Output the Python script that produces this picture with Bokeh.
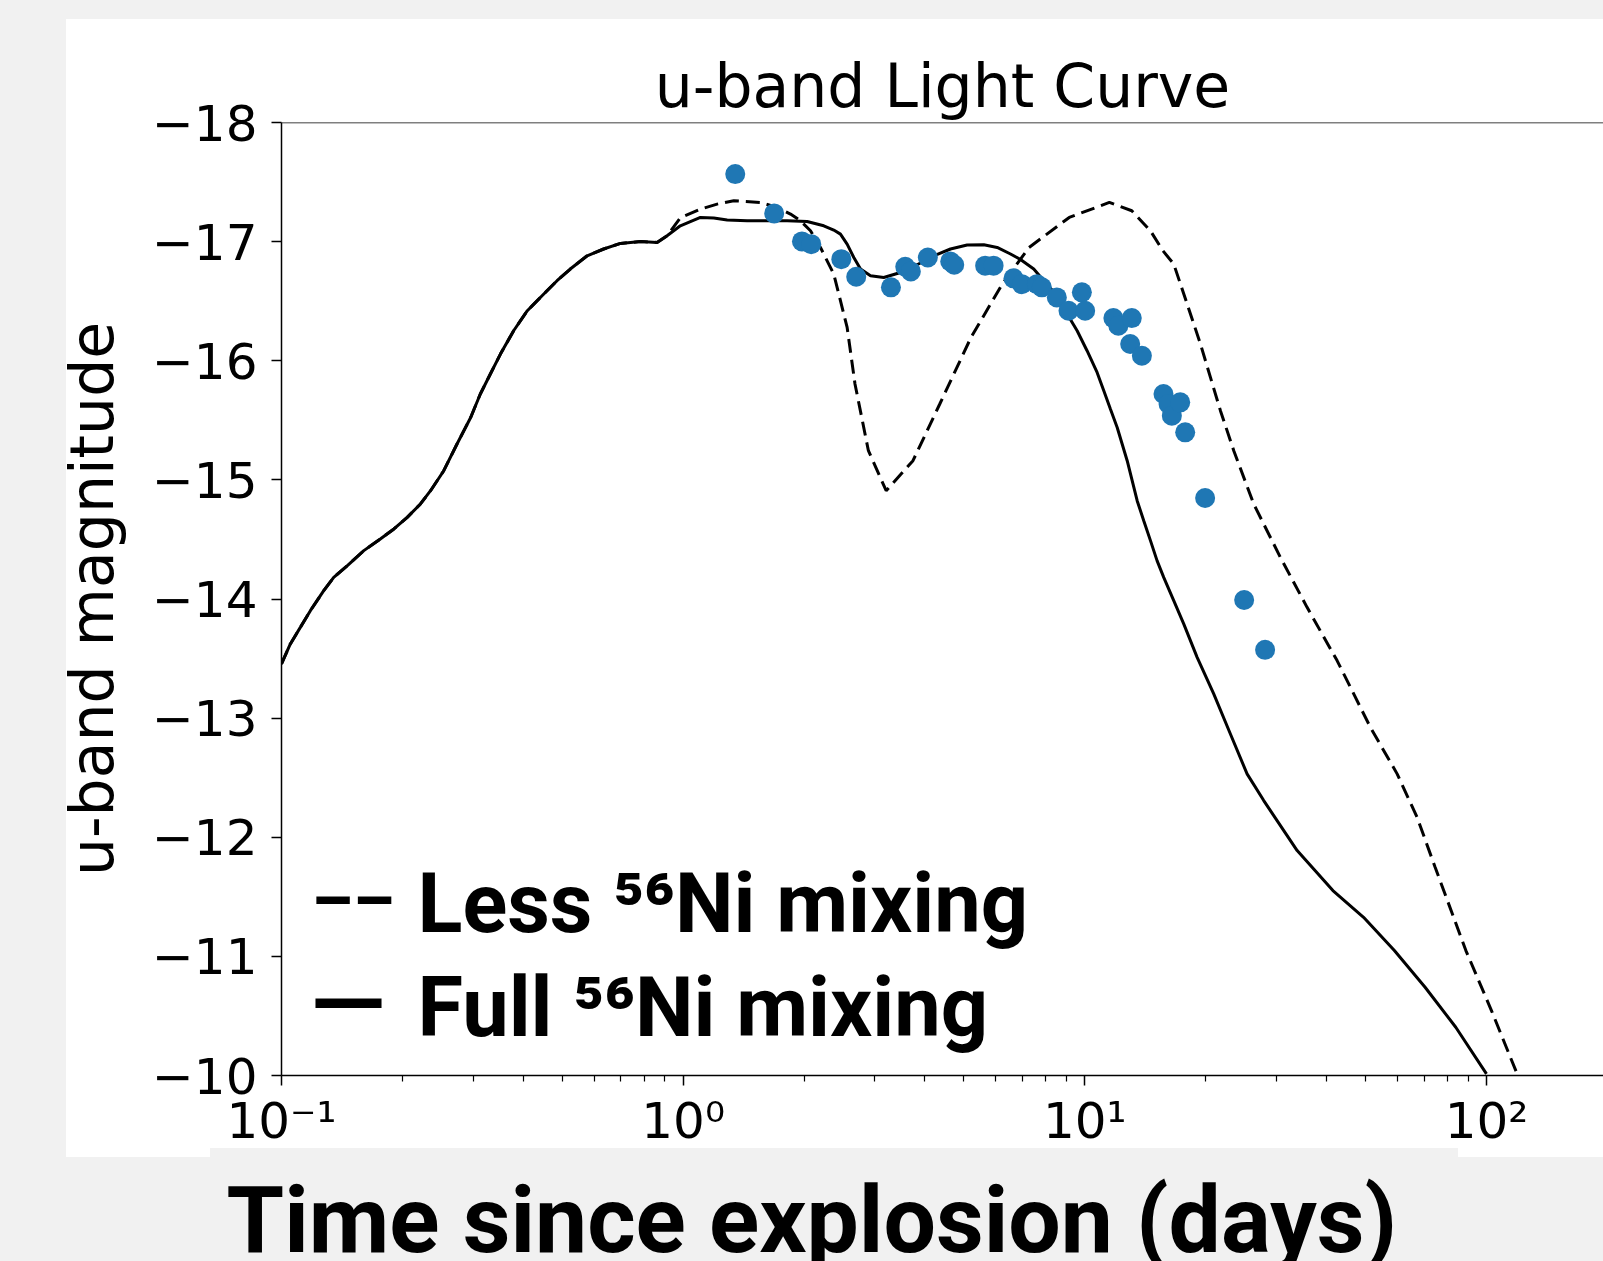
from bokeh.plotting import figure
from bokeh.layouts import column
from bokeh.models import (Range1d, FixedTicker, CustomJSTickFormatter, Label, Span)
from bokeh.embed import file_html
from bokeh.resources import INLINE

# ---------------- data ----------------
# Full 56Ni mixing model (time in days, u-band absolute magnitude)
full_t = [0.100, 0.1052, 0.1114, 0.1180, 0.1274, 0.1349, 0.1459, 0.1603, 0.1762, 0.1905,
          0.2056, 0.2218, 0.2350, 0.2535, 0.2735, 0.2958, 0.3126, 0.3311, 0.3508, 0.3784,
          0.4093, 0.4498, 0.4853, 0.5236, 0.5768, 0.6339, 0.6982, 0.7834, 0.8610, 0.9120,
          0.9840, 1.104, 1.192, 1.287, 1.443, 1.619, 1.815, 2.035, 2.239, 2.371,
          2.464, 2.560, 2.660, 2.764, 2.927, 3.158, 3.475, 3.824, 4.207, 4.630,
          5.093, 5.605, 6.050, 6.531, 6.916, 7.463, 7.903, 8.533, 9.036, 9.570,
          10.13, 10.73, 11.15, 11.58, 12.04, 12.75, 13.50, 14.02, 14.57, 15.13,
          15.72, 16.65, 17.63, 19.04, 20.94, 23.04, 25.35, 27.89, 30.11, 33.78,
          41.46, 49.43, 58.98, 70.34, 83.86, 100.0]
full_m = [-13.455, -13.623, -13.762, -13.902, -14.070, -14.182, -14.280, -14.406, -14.504, -14.588,
          -14.685, -14.798, -14.909, -15.077, -15.301, -15.524, -15.721, -15.889, -16.056, -16.252,
          -16.420, -16.560, -16.672, -16.770, -16.881, -16.938, -16.985, -17.001, -16.993, -17.049,
          -17.133, -17.203, -17.198, -17.181, -17.175, -17.175, -17.175, -17.169, -17.133, -17.097,
          -17.063, -16.979, -16.867, -16.770, -16.713, -16.699, -16.741, -16.806, -16.881, -16.938,
          -16.971, -16.974, -16.951, -16.896, -16.850, -16.770, -16.672, -16.546, -16.392, -16.252,
          -16.084, -15.902, -15.748, -15.595, -15.440, -15.161, -14.825, -14.657, -14.490, -14.322,
          -14.182, -13.986, -13.791, -13.510, -13.203, -12.867, -12.532, -12.308, -12.140, -11.888,
          -11.552, -11.328, -11.049, -10.741, -10.405, -10.014]

# Less 56Ni mixing model
less_t = [0.100, 0.1052, 0.1114, 0.1180, 0.1274, 0.1349, 0.1459, 0.1603, 0.1762, 0.1905,
          0.2056, 0.2218, 0.2350, 0.2535, 0.2735, 0.2958, 0.3126, 0.3311, 0.3508, 0.3784,
          0.4093, 0.4498, 0.4853, 0.5236, 0.5768, 0.6339, 0.6982, 0.7834, 0.8610, 0.9120,
          0.9840, 1.104, 1.215, 1.337, 1.557, 1.714, 1.850, 1.959, 2.075, 2.197,
          2.371, 2.560, 2.678, 2.892, 3.202, 3.734, 4.354, 5.208, 6.230, 7.264,
          9.147, 11.51, 13.09, 14.57, 15.65, 16.65, 17.98, 19.41, 20.55, 21.76,
          23.49, 26.33, 30.68, 35.76, 42.47, 51.40, 59.92, 67.18, 74.51, 88.87,
          102.9, 119.2]
less_m = [-13.455, -13.623, -13.762, -13.902, -14.070, -14.182, -14.280, -14.406, -14.504, -14.588,
          -14.685, -14.798, -14.909, -15.077, -15.301, -15.524, -15.721, -15.889, -16.056, -16.252,
          -16.420, -16.560, -16.672, -16.770, -16.881, -16.938, -16.985, -17.001, -16.993, -17.049,
          -17.200, -17.273, -17.315, -17.343, -17.329, -17.287, -17.231, -17.175, -17.091, -16.951,
          -16.728, -16.280, -15.805, -15.245, -14.909, -15.161, -15.637, -16.196, -16.644, -16.951,
          -17.203, -17.329, -17.259, -17.091, -16.923, -16.812, -16.476, -16.140, -15.860, -15.581,
          -15.245, -14.798, -14.350, -13.930, -13.483, -12.923, -12.532, -12.168, -11.748, -11.049,
          -10.545, -10.014]

# Observed u-band photometry
obs_t = [1.348, 1.685, 1.976, 2.084, 2.476, 2.697, 3.291, 3.572, 3.689, 4.066,
         4.623, 4.730, 5.648, 5.928, 6.644, 6.971, 7.598, 7.818, 8.518, 9.108,
         9.832, 10.02, 11.78, 12.12, 13.09, 12.97, 13.87, 15.70, 16.16, 16.47,
         17.28, 17.78, 19.93, 24.93, 28.11]
obs_m = [-17.567, -17.237, -17.002, -16.979, -16.853, -16.705, -16.616, -16.789, -16.750, -16.867,
         -16.834, -16.806, -16.798, -16.798, -16.692, -16.643, -16.643, -16.616, -16.532, -16.420,
         -16.574, -16.420, -16.358, -16.294, -16.358, -16.141, -16.042, -15.721, -15.637, -15.539,
         -15.651, -15.399, -14.848, -13.992, -13.573]

x_ticks = [0.1, 1.0, 10.0, 100.0]
x_tick_labels = ["10\u207b\u00b9", "10\u2070", "10\u00b9", "10\u00b2"]
x_minor_ticks = [k * 10.0 ** e for e in (-1, 0, 1) for k in range(2, 10)]
y_ticks = [-18, -17, -16, -15, -14, -13, -12, -11, -10]
y_tick_labels = ["\u221218", "\u221217", "\u221216", "\u221215", "\u221214",
                 "\u221213", "\u221212", "\u221211", "\u221210"]

title_text = "u-band Light Curve"
y_label = "u-band magnitude"
x_label = "Time since explosion (days)"
legend_marks = ["\u2013\u2013", "\u2014"]
legend_texts = ["Less \u2075\u2076Ni mixing", "Full \u2075\u2076Ni mixing"]

# ---------------- main figure ----------------
W, H = 1603, 1261
H1 = 1158            # main figure height; caption strip below
GRAY = "#f1f1f1"

p = figure(width=W, height=H1, x_axis_type="log", output_backend="svg",
           toolbar_location=None, title=title_text,
           x_range=Range1d(0.1, 195.6), y_range=Range1d(-10, -18),
           min_border_left=281, min_border_right=0,
           min_border_top=122, min_border_bottom=H1 - 1075)
p.frame_align = False
p.border_fill_color = None
p.background_fill_color = "white"
p.outline_line_color = None
p.grid.visible = False

# title
p.title.text_font = "DejaVu Sans"
p.title.text_font_size = "60px"
p.title.text_font_style = "normal"
p.title.text_color = "black"
p.title.align = "center"
p.title.standoff = 4

# axes
xa = p.xaxis[0]
ya = p.yaxis[0]
xa.ticker = FixedTicker(ticks=x_ticks, minor_ticks=x_minor_ticks)
xa.formatter = CustomJSTickFormatter(args=dict(tvals=x_ticks, tlabels=x_tick_labels), code="""
const i = tvals.findIndex((t) => Math.abs(Math.log10(t) - Math.log10(tick)) < 1e-6);
return i >= 0 ? tlabels[i] : "";
""")
ya.ticker = FixedTicker(ticks=y_ticks)
ya.formatter = CustomJSTickFormatter(args=dict(tvals=y_ticks, tlabels=y_tick_labels), code="""
const i = tvals.findIndex((t) => Math.abs(t - tick) < 1e-6);
return i >= 0 ? tlabels[i] : "";
""")
for ax in (xa, ya):
    ax.axis_line_color = "black"
    ax.axis_line_width = 1.5
    ax.major_tick_line_color = "black"
    ax.major_tick_line_width = 1.5
    ax.major_tick_out = 10
    ax.major_tick_in = 0
    ax.minor_tick_line_color = "black"
    ax.minor_tick_line_width = 1.2
    ax.minor_tick_out = 6
    ax.minor_tick_in = 0
    ax.major_label_text_font = "DejaVu Sans"
    ax.major_label_text_font_size = "50px"
    ax.major_label_text_color = "black"
ya.minor_tick_line_color = None
xa.major_label_standoff = 6
ya.major_label_standoff = 14
ya.axis_label = y_label
ya.axis_label_text_font = "DejaVu Sans"
ya.axis_label_text_font_size = "60px"
ya.axis_label_text_font_style = "normal"
ya.axis_label_text_color = "black"
ya.axis_label_standoff = 22

# top spine
p.add_layout(Span(location=-18, dimension="width", line_color="black", line_width=1.5))

# data
p.line(less_t, less_m, line_color="black", line_width=3, line_dash="14 7")
p.line(full_t, full_m, line_color="black", line_width=3)
p.scatter(obs_t, obs_m, size=20, fill_color="#1f77b4", line_color="#1f77b4", line_width=0)

# legend (plain text, canvas pixel units)
p.add_layout(Label(x=311, y=901, x_units="canvas", y_units="canvas",
                   text=legend_marks[0], text_font="Roboto", text_font_size="66px",
                   text_font_style="bold", text_baseline="alphabetic", text_color="black"))
p.add_layout(Label(x=311, y=997, x_units="canvas", y_units="canvas",
                   text=legend_marks[1], text_font="DejaVu Sans", text_font_size="74px",
                   text_font_style="bold", text_baseline="alphabetic", text_color="black"))
p.add_layout(Label(x=417, y=903, x_units="canvas", y_units="canvas",
                   text=legend_texts[0], text_font="Roboto", text_font_size="83px",
                   text_font_style="bold", text_baseline="alphabetic", text_color="black"))
p.add_layout(Label(x=417, y=1007, x_units="canvas", y_units="canvas",
                   text=legend_texts[1], text_font="Roboto", text_font_size="83px",
                   text_font_style="bold", text_baseline="alphabetic", text_color="black"))

# ---------------- caption strip ----------------
H2 = H - H1
cap = figure(width=W, height=H2, output_backend="svg", toolbar_location=None,
             x_range=Range1d(0, W), y_range=Range1d(0, H2),
             x_axis_location=None, y_axis_location=None,
             min_border_left=0, min_border_right=0,
             min_border_top=0, min_border_bottom=0)
cap.frame_align = False
cap.border_fill_color = None
cap.background_fill_color = None
cap.outline_line_color = None
cap.grid.visible = False
cap.add_layout(Label(x=226, y=62, x_units="canvas", y_units="canvas",
                     text=x_label, text_font="Roboto",
                     text_font_size="93px", text_font_style="bold",
                     text_baseline="middle", text_color="black"))

page = column(p, cap, spacing=0, styles={
    "background-color": GRAY,
    "background-image": ("linear-gradient(%s, %s), linear-gradient(#ffffff, #ffffff)" % (GRAY, GRAY)),
    "background-size": "1248px 9px, 1537px 1138px",
    "background-position": "210px 1148px, 66px 19px",
    "background-repeat": "no-repeat",
})

open("out.html", "w").write(file_html(page, INLINE))
